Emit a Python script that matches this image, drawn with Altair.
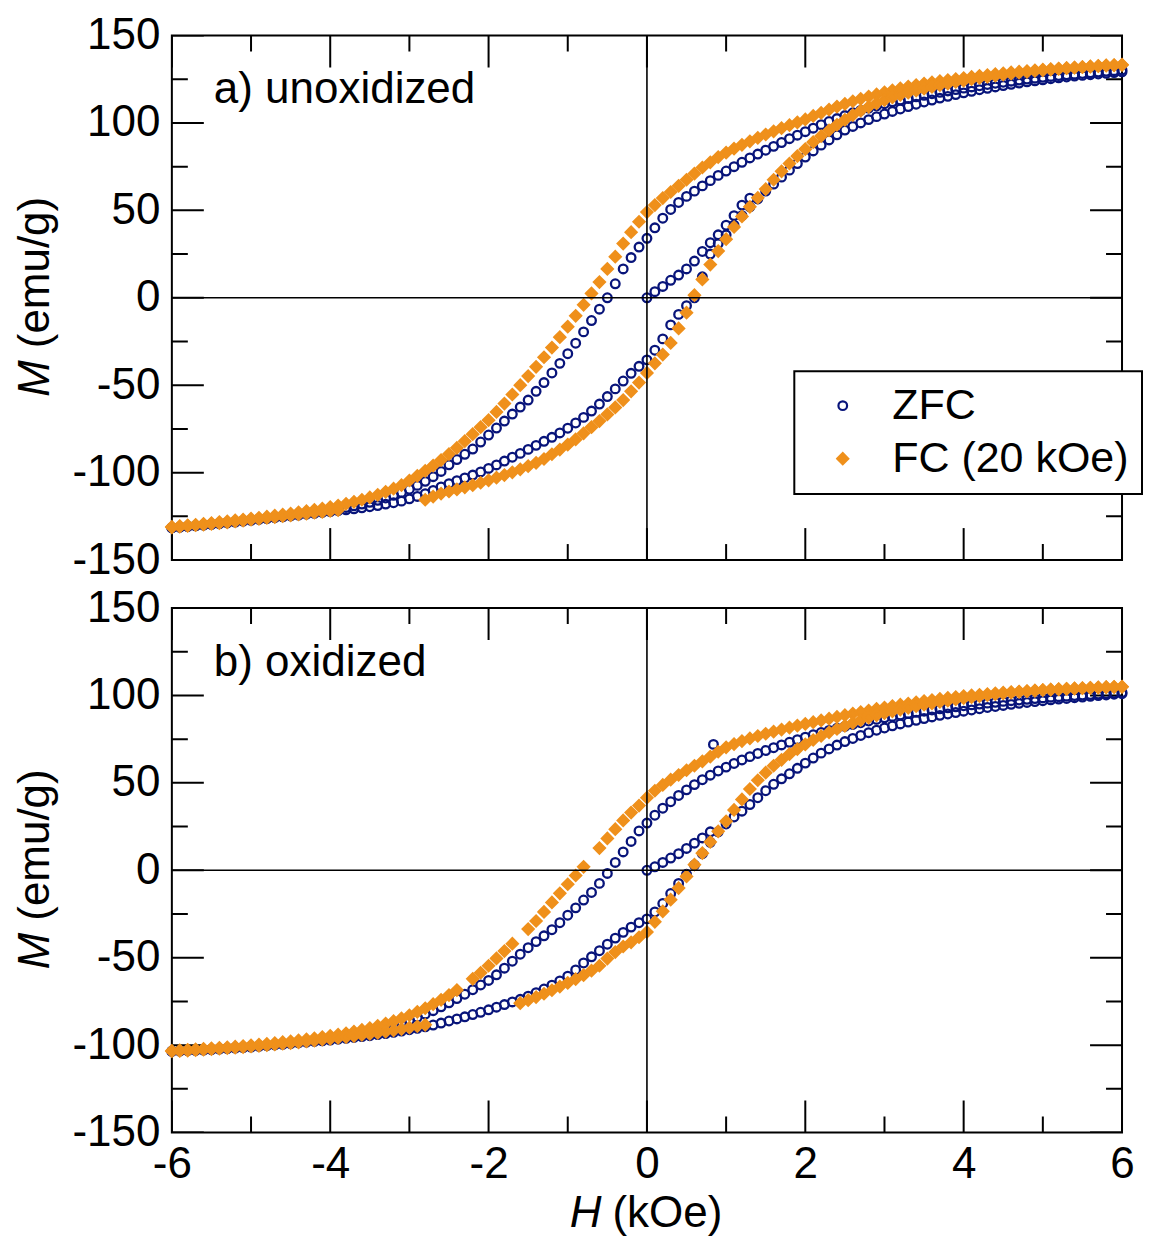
import altair as alt
import pandas as pd

# ---------------- data ----------------
H_GRID = [
    -6.0, -5.9, -5.8, -5.7, -5.6, -5.5, -5.4, -5.3, -5.2, -5.1,
    -5.0, -4.9, -4.8, -4.7, -4.6, -4.5, -4.4, -4.3, -4.2, -4.1,
    -4.0, -3.9, -3.8, -3.7, -3.6, -3.5, -3.4, -3.3, -3.2, -3.1,
    -3.0, -2.9, -2.8, -2.7, -2.6, -2.5, -2.4, -2.3, -2.2, -2.1,
    -2.0, -1.9, -1.8, -1.7, -1.6, -1.5, -1.4, -1.3, -1.2, -1.1,
    -1.0, -0.9, -0.8, -0.7, -0.6, -0.5, -0.4, -0.3, -0.2, -0.1,
    0.0, 0.1, 0.2, 0.3, 0.4, 0.5, 0.6, 0.7, 0.8, 0.9,
    1.0, 1.1, 1.2, 1.3, 1.4, 1.5, 1.6, 1.7, 1.8, 1.9,
    2.0, 2.1, 2.2, 2.3, 2.4, 2.5, 2.6, 2.7, 2.8, 2.9,
    3.0, 3.1, 3.2, 3.3, 3.4, 3.5, 3.6, 3.7, 3.8, 3.9,
    4.0, 4.1, 4.2, 4.3, 4.4, 4.5, 4.6, 4.7, 4.8, 4.9,
    5.0, 5.1, 5.2, 5.3, 5.4, 5.5, 5.6, 5.7, 5.8, 5.9,
    6.0,
]

# panel a) unoxidized
ZFC_UP_A = [
    -131.5, -131.1, -130.7, -130.3, -129.9, -129.5, -129.0, -128.5, -128.0, -127.5,
    -127.0, -126.5, -126.0, -125.5, -125.0, -124.5, -123.9, -123.3, -122.7, -122.1,
    -121.5, -120.7, -119.9, -119.0, -118.0, -117.0, -115.8, -114.5, -113.0, -111.3,
    -109.5, -107.3, -105.0, -102.3, -99.3, -95.5, -92.5, -89.5, -86.5, -82.5,
    -78.5, -74.5, -70.5, -66.5, -62.5, -58.5, -53.5, -48.5, -43.0, -37.5,
    -32.0, -26.0, -19.5, -13.0, -6.5, 0.0, 8.0, 16.5, 23.0, 29.0,
    34.0, 40.0, 45.5, 50.5, 54.5, 58.0, 61.0, 64.0, 67.0, 70.0,
    72.5, 75.0, 77.5, 80.0, 82.2, 84.4, 86.6, 88.8, 91.0, 93.0,
    95.0, 97.0, 99.0, 100.8, 102.5, 104.2, 105.8, 107.2, 108.5, 109.8,
    111.0, 112.1, 113.1, 114.0, 114.9, 115.8, 116.7, 117.5, 118.3, 119.1,
    119.9, 120.6, 121.3, 122.0, 122.7, 123.3, 123.9, 124.5, 125.1, 125.6,
    126.1, 126.6, 127.1, 127.5, 127.9, 128.3, 128.7, 129.1, 129.5, 129.9,
    130.3,
]
ZFC_LO_A = [
    -131.6, -131.2, -130.8, -130.4, -130.0, -129.6, -129.2, -128.8, -128.3, -127.8,
    -127.3, -126.8, -126.3, -125.8, -125.3, -124.8, -124.3, -123.8, -123.3, -122.8,
    -122.3, -121.8, -121.3, -120.7, -120.1, -119.5, -118.8, -118.0, -117.2, -116.3,
    -115.0, -113.6, -112.0, -110.2, -108.2, -106.3, -104.6, -103.0, -101.4, -99.6,
    -97.6, -95.6, -93.4, -91.2, -89.0, -86.7, -84.4, -82.1, -79.8, -77.3,
    -74.6, -71.6, -68.4, -64.8, -60.8, -56.5, -52.1, -47.6, -43.2, -39.2,
    -35.5, -30.0, -23.5, -15.5, -9.5, -4.5, 0.0, 12.0, 25.0, 31.0,
    36.0, 41.5, 47.0, 52.0, 56.5, 61.0, 65.0, 69.0, 73.0, 76.8,
    80.5, 84.0, 87.3, 90.3, 93.2, 95.9, 98.0, 100.0, 101.9, 103.6,
    105.1, 106.6, 108.0, 109.4, 110.7, 112.0, 113.1, 114.2, 115.2, 116.2,
    117.2, 118.1, 119.0, 119.8, 120.6, 121.4, 122.1, 122.8, 123.5, 124.1,
    124.7, 125.3, 125.8, 126.3, 126.8, 127.2, 127.6, 128.0, 128.4, 128.8,
    129.2,
]
FC_UP_A = [
    -131.0, -130.6, -130.2, -129.8, -129.3, -128.8, -128.3, -127.8, -127.3, -126.8,
    -126.3, -125.8, -125.2, -124.6, -124.0, -123.4, -122.7, -122.0, -121.3, -120.5,
    -119.7, -118.8, -117.8, -116.7, -115.5, -114.2, -112.7, -111.0, -109.2, -107.2,
    -104.5, -101.8, -99.0, -96.0, -92.8, -89.4, -85.8, -82.0, -78.0, -74.0,
    -70.0, -65.3, -60.5, -55.3, -50.0, -44.8, -39.5, -34.0, -28.5, -22.5,
    -16.5, -10.3, -4.0, 2.5, 9.0, 16.5, 23.5, 31.0, 37.5, 43.5,
    49.0, 53.0, 57.0, 60.5, 64.0, 67.5, 71.0, 74.5, 77.5, 80.5,
    83.0, 85.3, 87.5, 89.5, 91.5, 93.4, 95.2, 97.0, 98.7, 100.3,
    102.0, 104.0, 105.8, 107.6, 109.3, 110.9, 112.4, 113.8, 115.1, 116.3,
    117.5, 118.6, 119.8, 120.8, 121.7, 122.5, 123.2, 123.9, 124.5, 125.1,
    125.7, 126.3, 126.9, 127.4, 127.9, 128.4, 128.9, 129.3, 129.7, 130.1,
    130.5, 130.8, 131.1, 131.4, 131.7, 132.0, 132.3, 132.6, 132.9, 133.1,
    133.3,
]
FC_LO_A = [
    -131.3, -130.9, -130.5, -130.1, -129.7, -129.3, -128.9, -128.4, -127.9, -127.4,
    -126.9, -126.4, -125.9, -125.4, -124.9, -124.4, -123.9, -123.4, -122.9, -122.4,
    -121.9, -121.4, None, None, None, None, None, None, None, None,
    None, None, -115.5, -113.7, -112.0, -110.8, -109.6, -108.4, -107.2, -105.8,
    -104.4, -102.9, -101.4, -99.8, -98.1, -96.3, -94.4, -92.2, -89.5, -86.8,
    -84.0, -81.0, -77.5, -74.0, -70.5, -66.7, -62.7, -58.5, -53.5, -48.5,
    -43.0, -37.5, -32.5, -25.8, -17.5, -8.5, 1.5, 10.5, 19.0, 26.7,
    33.5, 40.5, 46.5, 52.0, 57.2, 62.2, 67.5, 72.3, 76.8, 81.0,
    85.0, 89.0, 92.5, 95.8, 98.9, 101.8, 104.5, 107.0, 109.2, 111.2,
    113.0, 114.6, 116.0, 117.3, 118.5, 119.6, 120.6, 121.6, 122.5, 123.4,
    124.2, 125.0, 125.7, 126.4, 127.0, 127.6, 128.2, 128.7, 129.2, 129.7,
    130.1, 130.5, 130.9, 131.3, 131.6, 131.9, 132.2, 132.5, 132.8, 133.0,
    133.2,
]
INIT_H_A = [0.0, 0.1, 0.2, 0.3, 0.4, 0.5, 0.6, 0.7, 0.8, 0.9, 1.0, 1.1, 1.2, 1.3]
ZFC_INIT_A = [0.0, 3.5, 6.5, 10.0, 13.0, 16.5, 21.0, 26.5, 31.5, 36.0, 41.5, 47.0, 53.0, 57.0]

# panel b) oxidized
ZFC_UP_B = [
    -103.4, -103.2, -103.0, -102.8, -102.6, -102.3, -102.0, -101.7, -101.4, -101.1,
    -100.8, -100.4, -100.0, -99.6, -99.2, -98.7, -98.2, -97.7, -97.1, -96.5,
    -95.9, -95.2, -94.5, -93.7, -92.9, -92.0, -91.0, -89.9, -88.7, -87.3,
    -85.8, -84.1, -82.3, -80.3, -78.1, -75.8, -73.4, -70.9, -68.3, -65.6,
    -63.0, -59.8, -56.0, -52.0, -48.0, -44.3, -40.8, -37.5, -34.0, -30.0,
    -25.7, -21.5, -17.0, -12.7, -7.5, -1.8, 4.5, 10.5, 16.5, 22.5,
    27.0, 31.5, 35.5, 39.2, 42.8, 46.0, 49.0, 51.8, 54.4, 56.8,
    59.0, 61.1, 63.1, 65.0, 66.8, 68.5, 70.1, 71.7, 73.2, 74.7,
    76.1, 77.5, 78.8, 80.0, 81.2, 82.3, 83.4, 84.4, 85.4, 86.3,
    87.2, 88.0, 88.8, 89.6, 90.3, 91.0, 91.7, 92.3, 92.9, 93.5,
    94.1, 94.6, 95.1, 95.6, 96.1, 96.6, 97.0, 97.4, 97.8, 98.2,
    98.6, 99.0, 99.3, 99.6, 99.9, 100.2, 100.5, 100.8, 101.1, 101.4,
    101.7,
]
ZFC_LO_B = [
    -103.6, -103.4, -103.2, -103.0, -102.8, -102.6, -102.3, -102.0, -101.7, -101.4,
    -101.1, -100.7, -100.3, -99.9, -99.5, -99.1, -98.7, -98.3, -97.9, -97.5,
    -97.1, -96.6, -96.1, -95.6, -95.1, -94.6, -94.0, -93.4, -92.7, -92.0,
    -91.2, -90.4, -89.5, -88.5, -87.4, -86.2, -85.0, -83.8, -82.5, -81.2,
    -79.8, -78.3, -76.8, -75.3, -73.8, -72.0, -70.0, -67.9, -65.7, -63.3,
    -60.6, -57.0, -53.0, -49.5, -46.0, -42.3, -38.8, -35.5, -32.5, -30.0,
    -27.8, -23.8, -19.0, -13.3, -7.5, -2.3, 3.0, 9.5, 16.0, 22.0,
    26.5, 30.5, 33.8, 37.6, 41.5, 45.5, 49.2, 52.3, 55.2, 58.3,
    61.3, 64.2, 67.0, 69.4, 71.6, 73.6, 75.4, 77.1, 78.7, 80.1,
    81.4, 82.6, 83.7, 84.8, 85.8, 86.8, 87.7, 88.6, 89.4, 90.2,
    91.0, 91.7, 92.4, 93.1, 93.7, 94.3, 94.9, 95.5, 96.0, 96.5,
    97.0, 97.5, 97.9, 98.3, 98.7, 99.1, 99.5, 99.9, 100.3, 100.7,
    101.0,
]
FC_UP_B = [
    -103.2, -103.0, -102.7, -102.4, -102.1, -101.8, -101.5, -101.2, -100.9, -100.5,
    -100.1, -99.7, -99.3, -98.8, -98.3, -97.8, -97.3, -96.7, -96.1, -95.4,
    -94.7, -94.0, -93.2, -92.3, -91.3, -90.2, -89.0, -87.7, -86.3, -84.7,
    -82.9, -81.0, -78.9, -76.6, -74.1, -71.4, -68.5, None, -62.1, -58.6,
    -54.6, -50.4, -46.2, -42.0, None, -33.6, -29.0, -23.8, -18.4, -13.2,
    -8.0, -3.0, 2.0, None, 12.7, 18.2, 23.5, 28.5, 33.0, 37.0,
    41.5, 45.5, 48.8, 51.8, 54.5, 57.2, 59.8, 62.3, 65.0, 67.8,
    70.3, 72.2, 73.9, 75.4, 76.8, 78.1, 79.3, 80.5, 81.6, 82.7,
    83.7, 84.7, 85.7, 86.7, 87.7, 88.7, 89.6, 90.5, 91.4, 92.3,
    93.1, 93.9, 94.7, 95.4, 96.1, 96.8, 97.4, 98.0, 98.6, 99.1,
    99.6, 100.0, 100.4, 100.8, 101.2, 101.6, 101.9, 102.2, 102.5, 102.8,
    103.1, 103.3, 103.5, 103.7, 103.9, 104.1, 104.3, 104.5, 104.7, 104.9,
    105.0,
]
FC_LO_B = [
    -103.5, -103.3, -103.1, -102.9, -102.6, -102.3, -102.0, -101.7, -101.4, -101.1,
    -100.8, -100.4, -100.0, -99.6, -99.2, -98.8, -98.4, -97.9, -97.4, -96.9,
    -96.4, -95.9, -95.4, -94.8, -94.2, -93.6, -93.0, -92.3, -91.6, -90.8,
    -90.0, -89.2, -88.4, None, None, None, None, None, None, None,
    None, None, None, None, -76.0, -74.3, -72.5, -70.6, -68.6, -66.5,
    -64.4, -62.2, -60.0, -57.4, -54.6, -50.5, -46.8, -43.6, -41.2, -38.3,
    -35.3, -29.5, -23.5, -16.8, -10.2, -3.5, 3.2, 9.8, 16.2, 22.3,
    28.0, 34.5, 40.5, 46.5, 51.5, 55.8, 59.8, 63.2, 66.4, 69.3,
    72.0, 74.5, 76.8, 78.9, 80.8, 82.6, 84.3, 85.9, 87.3, 88.6,
    89.8, 90.9, 91.9, 92.9, 93.8, 94.7, 95.5, 96.3, 97.0, 97.7,
    98.4, 99.0, 99.6, 100.2, 100.7, 101.2, 101.6, 102.0, 102.4, 102.8,
    103.1, 103.4, 103.6, 103.8, 104.0, 104.2, 104.4, 104.6, 104.7, 104.8,
    104.9,
]
INIT_H_B = [0.0, 0.1, 0.2, 0.3, 0.4, 0.5, 0.6, 0.7, 0.8, 0.84]
ZFC_INIT_B = [0.0, 2.0, 4.5, 7.0, 9.5, 12.5, 15.5, 18.5, 22.0, 72.0]

SERIES = ["ZFC", "FC (20 kOe)"]
PANEL_LABELS = ["a) unoxidized", "b) oxidized"]
X_LABELS = [-6, -4, -2, 0, 2, 4, 6]
X_MINOR = [-5, -3, -1, 1, 3, 5]
Y_LABELS = [-150, -100, -50, 0, 50, 100, 150]
Y_MINOR = [-125, -75, -25, 25, 75, 125]

NAVY = "#08147a"
ORANGE = "#ef901b"
FONT = "Liberation Sans"
FS = 44
W, HT = 951, 525


def rows(series, hs, ms):
    return [{"H": h, "M": m, "series": series} for h, m in zip(hs, ms) if m is not None]


df_a = pd.DataFrame(
    rows("ZFC", INIT_H_A, ZFC_INIT_A) + rows("ZFC", H_GRID, ZFC_UP_A) + rows("ZFC", H_GRID, ZFC_LO_A)
    + rows("FC (20 kOe)", H_GRID, FC_UP_A) + rows("FC (20 kOe)", H_GRID, FC_LO_A)
)
df_b = pd.DataFrame(
    rows("ZFC", INIT_H_B, ZFC_INIT_B) + rows("ZFC", H_GRID, ZFC_UP_B) + rows("ZFC", H_GRID, ZFC_LO_B)
    + rows("FC (20 kOe)", H_GRID, FC_UP_B) + rows("FC (20 kOe)", H_GRID, FC_LO_B)
)

xs = alt.Scale(domain=[-6, 6], nice=False, zero=False)
ys = alt.Scale(domain=[-150, 150], nice=False, zero=False)
ya = alt.Axis(values=Y_LABELS, labelExpr="'' + datum.value", labelFontSize=FS, labelFont=FONT,
              labelColor="black", labelPadding=12, ticks=False, domain=False, grid=False, title=None)
xa_b = alt.Axis(values=X_LABELS, labelExpr="'' + datum.value", labelFontSize=FS, labelFont=FONT,
                labelColor="black", labelPadding=10, labelFlush=False, ticks=False, domain=False,
                grid=False, title=None)

LEG = alt.Legend(title=None, orient="none", legendX=623, legendY=336, labelFontSize=43,
                 labelFont=FONT, labelColor="black", labelLimit=400, strokeColor="black",
                 fillColor="white", padding=13, rowPadding=9, symbolOffset=14, labelOffset=28,
                 symbolStrokeWidth=2.2, cornerRadius=0)


def panel(df, label, bottom):
    xa = xa_b if bottom else None

    def X(f):
        return alt.X(f, type="quantitative", scale=xs, axis=xa)

    def Y(f):
        return alt.Y(f, type="quantitative", scale=ys, axis=ya)

    layers = []
    for vals, size in [(X_LABELS, 64), (X_MINOR, 32)]:
        d = pd.DataFrame({"v": vals * 2, "e": [-150] * len(vals) + [150] * len(vals)})
        layers.append(alt.Chart(d).mark_tick(orient="vertical", size=size, thickness=2, color="black",
                                             clip=True, opacity=1).encode(x=X("v"), y=Y("e")))
    for vals, size in [(Y_LABELS, 64), (Y_MINOR, 32)]:
        d = pd.DataFrame({"v": vals * 2, "e": [-6] * len(vals) + [6] * len(vals)})
        layers.append(alt.Chart(d).mark_tick(orient="horizontal", size=size, thickness=2, color="black",
                                             clip=True, opacity=1).encode(x=X("e"), y=Y("v")))

    pts = alt.Chart(df).mark_point(filled=False, strokeWidth=2.3, opacity=1).encode(
        x=X("H"), y=Y("M"),
        shape=alt.Shape("series:N", scale=alt.Scale(domain=SERIES, range=["circle", "diamond"]), legend=LEG),
        stroke=alt.Stroke("series:N", scale=alt.Scale(domain=SERIES, range=[NAVY, ORANGE]), legend=LEG),
        fill=alt.Fill("series:N", scale=alt.Scale(domain=SERIES, range=["transparent", ORANGE]), legend=LEG),
        size=alt.Size("series:N", scale=alt.Scale(domain=SERIES, range=[75, 120]), legend=LEG),
    )
    layers.append(pts)

    zero = pd.DataFrame({"v": [0]})
    layers.append(alt.Chart(zero).mark_rule(color="black", strokeWidth=1.6).encode(x=X("v")))
    layers.append(alt.Chart(zero).mark_rule(color="black", strokeWidth=1.6).encode(y=Y("v")))

    def txt(t, x, y, align, style="normal", angle=0):
        return alt.Chart(pd.DataFrame({"t": [t]})).mark_text(
            align=align, baseline="alphabetic", fontSize=FS, font=FONT, color="black",
            fontStyle=style, angle=angle,
        ).encode(text="t:N", x=alt.value(x), y=alt.value(y))

    layers.append(txt(label, 42, 68, "left"))
    layers.append(txt("M", -123, 325, "right", "italic", 270))
    layers.append(txt("(emu/g)", -123, 313, "left", "normal", 270))
    if bottom:
        layers.append(txt("H", 430, 620, "right", "italic"))
        layers.append(txt("(kOe)", 441, 620, "left"))

    return alt.layer(*layers).properties(width=W, height=HT)


pa = panel(df_a, PANEL_LABELS[0], False)
pb = panel(df_b, PANEL_LABELS[1], True)

chart = alt.vconcat(pa, pb, spacing=2).properties(
    padding={"left": 5, "top": 4, "right": 0, "bottom": 0}
).configure_view(stroke="black", strokeWidth=2).configure_legend(strokeWidth=2)

chart.save("out.html", embed_options={"renderer": "svg", "actions": False})
